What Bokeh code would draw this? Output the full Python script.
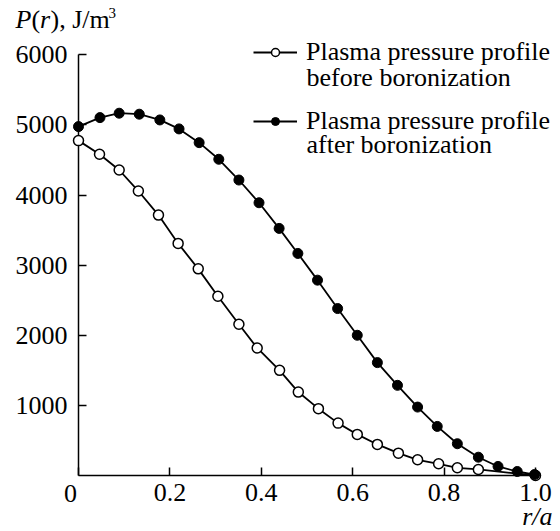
from bokeh.plotting import figure
from bokeh.models import Range1d, Legend, LegendItem, FixedTicker
from bokeh.embed import file_html
from bokeh.resources import INLINE
from bokeh.core.properties import value

# ---- data ----
r_before = [0.0, 0.046, 0.089, 0.131, 0.175, 0.218, 0.262, 0.305, 0.351, 0.391,
            0.440, 0.481, 0.525, 0.568, 0.610, 0.654, 0.700, 0.742, 0.788, 0.829,
            0.875, 1.0]
p_before = [4776, 4581, 4357, 4057, 3714, 3310, 2947, 2557, 2157, 1819,
            1500, 1190, 953, 747, 586, 443, 319, 224, 167, 110,
            86, 0]
r_after = [0.0, 0.047, 0.089, 0.133, 0.178, 0.220, 0.264, 0.307, 0.351, 0.395,
           0.439, 0.480, 0.523, 0.567, 0.610, 0.654, 0.698, 0.742, 0.785, 0.829,
           0.875, 0.918, 0.960, 0.998]
p_after = [4976, 5104, 5167, 5153, 5071, 4943, 4747, 4510, 4214, 3890,
           3524, 3167, 2786, 2381, 2000, 1610, 1286, 976, 700, 453,
           261, 129, 57, 14]

x_ticks = [0, 0.2, 0.4, 0.6, 0.8, 1.0]
x_tick_labels = ["0", "0.2", "0.4", "0.6", "0.8", "1.0"]
y_ticks = [1000, 2000, 3000, 4000, 5000, 6000]
y_tick_labels = ["1000", "2000", "3000", "4000", "5000", "6000"]

legend_first_line = "Plasma pressure profile"
legend_before_2nd = "before boronization"
legend_after_2nd = "after boronization"

FONT = "Liberation Serif"
FS = "26px"

# ---- layout (page pixels) ----
W, H = 560, 531
FRAME_LEFT = 78
PX_PER_UNIT_X = 457.0
FRAME_RIGHT = 558
FRAME_BOTTOM = 475
PX_PER_UNIT_Y = (475 - 54.3) / 6000.0
X_END = (FRAME_RIGHT - FRAME_LEFT) / PX_PER_UNIT_X
Y_TOP = FRAME_BOTTOM / PX_PER_UNIT_Y
TEXT_SHIFT = 9  # empirical correction of the text glyph baseline


def dx(px):
    return (px - FRAME_LEFT) / PX_PER_UNIT_X


def dy(py):
    return (FRAME_BOTTOM - py) / PX_PER_UNIT_Y


p = figure(width=W, height=H,
           x_range=Range1d(0, X_END), y_range=Range1d(0, Y_TOP),
           output_backend="svg", toolbar_location=None,
           min_border_left=FRAME_LEFT, min_border_right=W - FRAME_RIGHT,
           min_border_top=0, min_border_bottom=H - FRAME_BOTTOM)
p.outline_line_color = None
p.grid.visible = False
p.background_fill_color = "white"
p.border_fill_color = "white"

for ax in (p.xaxis[0], p.yaxis[0]):
    ax.axis_line_width = 1.5
    ax.axis_line_color = "black"
    ax.major_tick_line_width = 1.5
    ax.major_tick_line_color = "black"
    ax.major_tick_in = 8
    ax.major_tick_out = 0
    ax.minor_tick_line_color = None
    ax.major_label_text_font = FONT
    ax.major_label_text_font_size = FS
    ax.major_label_text_color = "black"

p.xaxis.ticker = FixedTicker(ticks=x_ticks)
x_over = {t: s for t, s in zip(x_ticks, x_tick_labels)}
x_over[x_ticks[0]] = ""          # the "0" is drawn slightly left of its tick below
p.xaxis.major_label_overrides = x_over
p.xaxis.major_label_standoff = 8
p.xaxis.bounds = (0, 1.0)
p.yaxis.ticker = FixedTicker(ticks=y_ticks)
p.yaxis.major_label_overrides = {t: s for t, s in zip(y_ticks, y_tick_labels)}
p.yaxis.major_label_standoff = 11
p.yaxis.bounds = (0, 6000)

l1 = p.line(r_before, p_before, line_color="black", line_width=1.8, level="overlay")
s1 = p.scatter(r_before, p_before, marker="circle", size=10, fill_color="white",
               line_color="black", line_width=1.5, level="overlay")
l2 = p.line(r_after, p_after, line_color="black", line_width=1.8, level="overlay")
s2 = p.scatter(r_after, p_after, marker="circle", size=10, fill_color="black",
               line_color="black", line_width=1.0, level="overlay")

legend = Legend(items=[LegendItem(label=legend_first_line, renderers=[l1, s1]),
                       LegendItem(label=legend_first_line, renderers=[l2, s2])],
                location=(175, 339), orientation="vertical",
                padding=0, margin=0, spacing=39,
                glyph_width=44, glyph_height=20, label_standoff=9,
                label_text_font=FONT, label_text_font_size=FS,
                label_text_color="black",
                border_line_color=None, background_fill_alpha=0)
p.add_layout(legend, "center")


def txt(text, px, py, size=FS, style="normal", align="left"):
    p.text(x=[dx(px)], y=[dy(py - TEXT_SHIFT)], text=[text],
           text_font=value(FONT), text_font_size=value(size),
           text_font_style=value(style), text_align=value(align),
           text_baseline=value("alphabetic"), text_color="black",
           level="overlay")


txt(legend_before_2nd, 306, 86)
txt(legend_after_2nd, 306, 152.6)

# "0" tick label of the x axis (offset to the left as in the reference)
txt(x_tick_labels[0], 70, 501.7, align="center")

# y axis title: P(r), J/m^3
txt("P", 15, 28.3, style="italic")
txt("(", 31, 28.3)
txt("r", 39.5, 28.3, style="italic")
txt("), J/m", 50, 28.3)
txt("3", 108, 21.7, size="15px")

# x axis title
txt("r/a", 552, 525, style="italic", align="right")

open("out.html", "w").write(file_html(p, INLINE))
